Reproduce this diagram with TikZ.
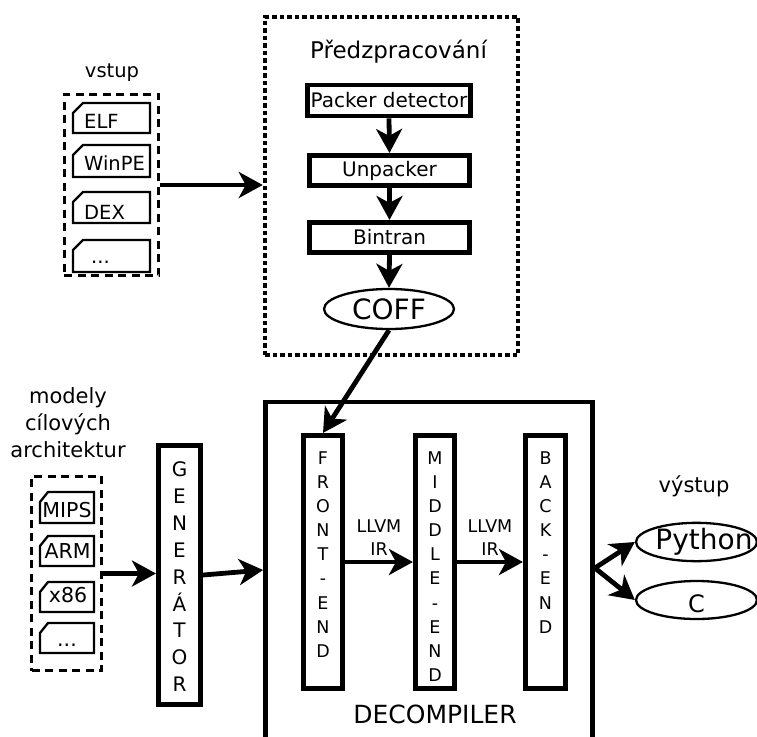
\documentclass[tikz,border=0pt]{standalone}
\usepackage{fontspec}
\setmainfont{DejaVu Sans}
\usetikzlibrary{arrows.meta,shapes.geometric,calc}
\newcommand{\fsz}[2]{\fontsize{#1}{#2}\selectfont}
% file tab outline: x1 y1 x2 y2 xcut ycut (chamfered top-left corner)
\newcommand{\doctab}[6]{%
  \draw[tabline] (#1,#2+#6) -- (#1+#5,#2) -- (#3,#2) -- (#3,#4) -- (#1,#4) -- cycle;}
\begin{document}
\begin{tikzpicture}[x=1pt,y=-1pt,
  stage/.style={draw, line width=4.6pt, inner sep=0pt, font=\fsz{20}{24}},
  oval/.style={draw, ellipse, line width=2.3pt, inner sep=0pt},
  grp/.style={draw, line width=2.8pt, dash pattern=on 8pt off 5.5pt, inner sep=0pt},
  tabline/.style={line width=2.3pt, line join=miter},
  arr/.style={line width=4.8pt, -{Stealth[length=24pt,width=26pt,inset=7pt]}},
  col/.style={align=center, inner sep=0pt, anchor=north},
  lbl/.style={inner sep=0pt, anchor=base},
]
\useasboundingbox (0,0) rectangle (757,736);
\clip (0,0) rectangle (757,736);

% ---------- preprocessing ----------
\node[draw, line width=4.5pt, dash pattern=on 4.5pt off 3pt, minimum width=253pt,
      minimum height=338pt, inner sep=0pt] (prep) at (391.5,186) {};
\node[lbl, font=\fsz{23}{27}] (preptitle) at (398.5,58) {Předzpracování};
\node[stage, minimum width=163pt, minimum height=31pt] (pd) at (389,100.5) {Packer detector};
\node[stage, minimum width=160pt, minimum height=30.5pt] (up) at (389.5,170.5) {Unpacker};
\node[stage, minimum width=160pt, minimum height=30.5pt] (bt) at (389.5,237.5) {Bintran};
\node[oval, minimum width=130pt, minimum height=40pt, font=\fsz{28}{32}] (coff) at (389,309) {COFF};
\draw[arr] (pd.south) -- (up.north);
\draw[arr] (up.south) -- (bt.north);
\draw[arr] (bt.south) -- (coff.north);

% ---------- input formats ----------
\node[lbl, font=\fsz{19.5}{23}] (inlbl) at (112,77) {vstup};
\node[grp, minimum width=94.5pt, minimum height=181.5pt] (inp) at (111.5,185) {};
\doctab{73}{103}{150}{133}{10}{10}
\doctab{73}{145}{150}{177}{10}{10}
\doctab{73}{192}{150}{223}{10}{10}
\doctab{73}{240}{150}{272}{10}{10}
\node[inner sep=0pt, anchor=base west, font=\fsz{19.5}{23}] (felf) at (84,128.5) {ELF};
\node[inner sep=0pt, anchor=base west, font=\fsz{19.5}{23}] (fpe) at (84,170.7) {WinPE};
\node[inner sep=0pt, anchor=base west, font=\fsz{19.5}{23}] (fdex) at (84,219) {DEX};
\node[inner sep=0pt, anchor=base west, font=\fsz{19.5}{23}] (fmore) at (91,263.5) {...};
\draw[arr] (inp.east) -- (inp.east -| prep.west);

% ---------- target architecture models ----------
\node[col, font=\fsz{21}{27}] (archlbl) at (68,387) {modely\\cílových\\architektur};
\node[grp, minimum width=70pt, minimum height=194.5pt] (arch) at (66.5,573.5) {};
\doctab{40}{492}{94}{523}{8}{10}
\doctab{40}{536}{94}{566}{8}{10}
\doctab{40}{582}{94}{612}{8}{10}
\doctab{40}{623}{94}{653}{8}{10}
\node[lbl, font=\fsz{20.5}{24}] (amips) at (67,517) {MIPS};
\node[lbl, font=\fsz{20.5}{24}] (aarm) at (67.5,558) {ARM};
\node[lbl, font=\fsz{20.5}{24}] (ax86) at (68,602) {x86};
\node[lbl, font=\fsz{20.5}{24}] (amore) at (67,646) {...};

\node[stage, minimum width=42.5pt, minimum height=259pt] (gen) at (179.5,575) {};
\node[col, font=\fsz{20}{26.9}] (genlbl) at (179.5,461.5) {G\\E\\N\\E\\R\\Á\\T\\O\\R};
\draw[arr] (arch.east) -- (arch.east -| gen.west);

% ---------- decompiler ----------
\node[draw, line width=4.8pt, minimum width=327pt, minimum height=358pt, inner sep=0pt] (dec) at (429,581) {};
\node[lbl, font=\fsz{25}{30}] (declbl) at (435,723) {DECOMPILER};

\node[stage, minimum width=39.5pt, minimum height=253.5pt] (fe) at (323,562) {};
\node[stage, minimum width=39.5pt, minimum height=253.5pt] (me) at (435,562) {};
\node[stage, minimum width=40.5pt, minimum height=253.5pt] (be) at (545.5,562) {};
\node[col, font=\fsz{17.5}{24.1}] (fetxt) at (323,451.5) {F\\R\\O\\N\\T\\-\\E\\N\\D};
\node[col, font=\fsz{17.5}{24.1}] (metxt) at (435,451.5) {M\\I\\D\\D\\L\\E\\-\\E\\N\\D};
\node[col, font=\fsz{17.5}{24.1}] (betxt) at (545.5,451.5) {B\\A\\C\\K\\-\\E\\N\\D};

\node[col, font=\fsz{17.5}{23}] (ir1) at (379,519.5) {LLVM\\IR};
\node[col, font=\fsz{17.5}{23}] (ir2) at (490,519.5) {LLVM\\IR};
\draw[arr] (fe.east) -- (me.west);
\draw[arr] (me.east) -- (be.west);

\draw[arr] (coff.south) -- (fe.north);
\draw[arr] (gen.east) -- ($(dec.west)+(0,-11)$);

% ---------- outputs ----------
\node[lbl, font=\fsz{21}{25}] (outlbl) at (694,492) {výstup};
\node[oval, minimum width=121pt, minimum height=38pt, font=\fsz{28}{32}] (py) at (696.5,542)
  {\makebox[0pt]{\hspace{15pt}Python}};
\node[oval, minimum width=121pt, minimum height=38pt, font=\fsz{24}{28}, text height=25pt] (cc) at (696.5,600) {C};
\coordinate (decout) at ($(dec.east)+(0,-13)$);
\draw[arr] (decout) -- (py.west);
\draw[arr] (decout) -- (cc.west);
\end{tikzpicture}
\end{document}
